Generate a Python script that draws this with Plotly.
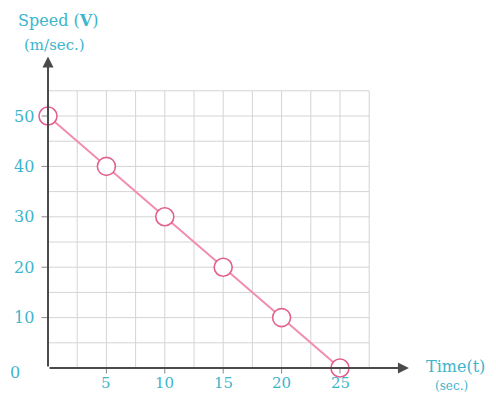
import plotly.graph_objects as go

# Speed vs time data
time_s = [0, 5, 10, 15, 20, 25]
speed = [50, 40, 30, 20, 10, 0]

x_ticks = [5, 10, 15, 20, 25]
y_ticks = [10, 20, 30, 40, 50]

grid_x = [2.5 * k for k in range(1, 12)]   # 2.5 .. 27.5
grid_y = [5 * k for k in range(1, 12)]     # 5 .. 55

TEXT = "#3db5cb"
PINK_LINE = "#f28db2"
PINK_MARK = "#e2608f"
AXIS = "#4a4a4a"
GRID = "#d4d4d4"
FONT = "DejaVu Serif"

fig = go.Figure()

fig.add_trace(go.Scatter(
    x=time_s, y=speed, mode="lines+markers",
    line=dict(color=PINK_LINE, width=2),
    marker=dict(size=18, color="white", line=dict(color=PINK_MARK, width=1.6)),
    hoverinfo="skip", showlegend=False,
))

shapes = []
for gx in grid_x:
    shapes.append(dict(type="line", xref="x", yref="y", x0=gx, x1=gx, y0=0, y1=grid_y[-1],
                       line=dict(color=GRID, width=1), layer="below"))
for gy in grid_y:
    shapes.append(dict(type="line", xref="x", yref="y", x0=0, x1=grid_x[-1], y0=gy, y1=gy,
                       line=dict(color=GRID, width=1), layer="below"))
# tick marks
for tx in x_ticks:
    shapes.append(dict(type="line", xref="x", yref="y", x0=tx, x1=tx, y0=0, y1=-1.1,
                       line=dict(color="#888", width=1)))
for ty in y_ticks:
    shapes.append(dict(type="line", xref="x", yref="y", x0=-0.55, x1=0, y0=ty, y1=ty,
                       line=dict(color="#888", width=1)))

annotations = []
# axis arrows
annotations.append(dict(x=0, y=61.8, ax=0, ay=0, xref="x", yref="y", axref="x", ayref="y",
                        text="", showarrow=True, arrowhead=2, arrowsize=1.1,
                        arrowwidth=2, arrowcolor=AXIS))
annotations.append(dict(x=30.9, y=0, ax=0, ay=0, xref="x", yref="y", axref="x", ayref="y",
                        text="", showarrow=True, arrowhead=2, arrowsize=1.1,
                        arrowwidth=2, arrowcolor=AXIS))

for tx in x_ticks:
    annotations.append(dict(x=tx, y=-3.0, xref="x", yref="y", text=str(tx), showarrow=False,
                            xanchor="center", yanchor="middle", borderpad=0,
                            font=dict(family=FONT, size=15, color=TEXT)))
for ty in y_ticks:
    annotations.append(dict(x=-1.0, y=ty, xref="x", yref="y", text=str(ty), showarrow=False,
                            xanchor="right", yanchor="middle",
                            font=dict(family=FONT, size=16, color=TEXT)))
annotations.append(dict(x=-2.8, y=-0.9, xref="x", yref="y", text="0", showarrow=False,
                        xanchor="center", yanchor="middle",
                        font=dict(family=FONT, size=16, color=TEXT)))

# axis titles, positioned in pixels and converted to paper fractions below
titles = [
    (58, 20, "Speed (<b>V</b>)", 16),
    (54, 45, "(m/sec.)", 15),
    (455, 366, "Time(t)", 16),
    (451, 386, "(sec.)", 12),
]
W, H = 496, 394
for px, py, txt, sz in titles:
    annotations.append(dict(x=px / W, y=1 - py / H, xref="paper", yref="paper", text=txt,
                            showarrow=False, xanchor="center", yanchor="middle", borderpad=0,
                            font=dict(family=FONT, size=sz, color=TEXT)))

# pixel mapping: x=0 at 48px, 11.68 px/unit; y=0 at 368px, 5.04 px/unit
x0_px, x_scale = 48, 11.68
y0_px, y_scale = 368, 5.04
x_range = [-x0_px / x_scale, (W - x0_px) / x_scale]
y_range = [-(H - y0_px) / y_scale, y0_px / y_scale]

fig.update_layout(
    width=W, height=H,
    margin=dict(l=0, r=0, t=0, b=0),
    paper_bgcolor="white", plot_bgcolor="white",
    xaxis=dict(range=x_range, visible=False, fixedrange=True),
    yaxis=dict(range=y_range, visible=False, fixedrange=True),
    shapes=shapes, annotations=annotations,
)

fig.write_html("out.html")
